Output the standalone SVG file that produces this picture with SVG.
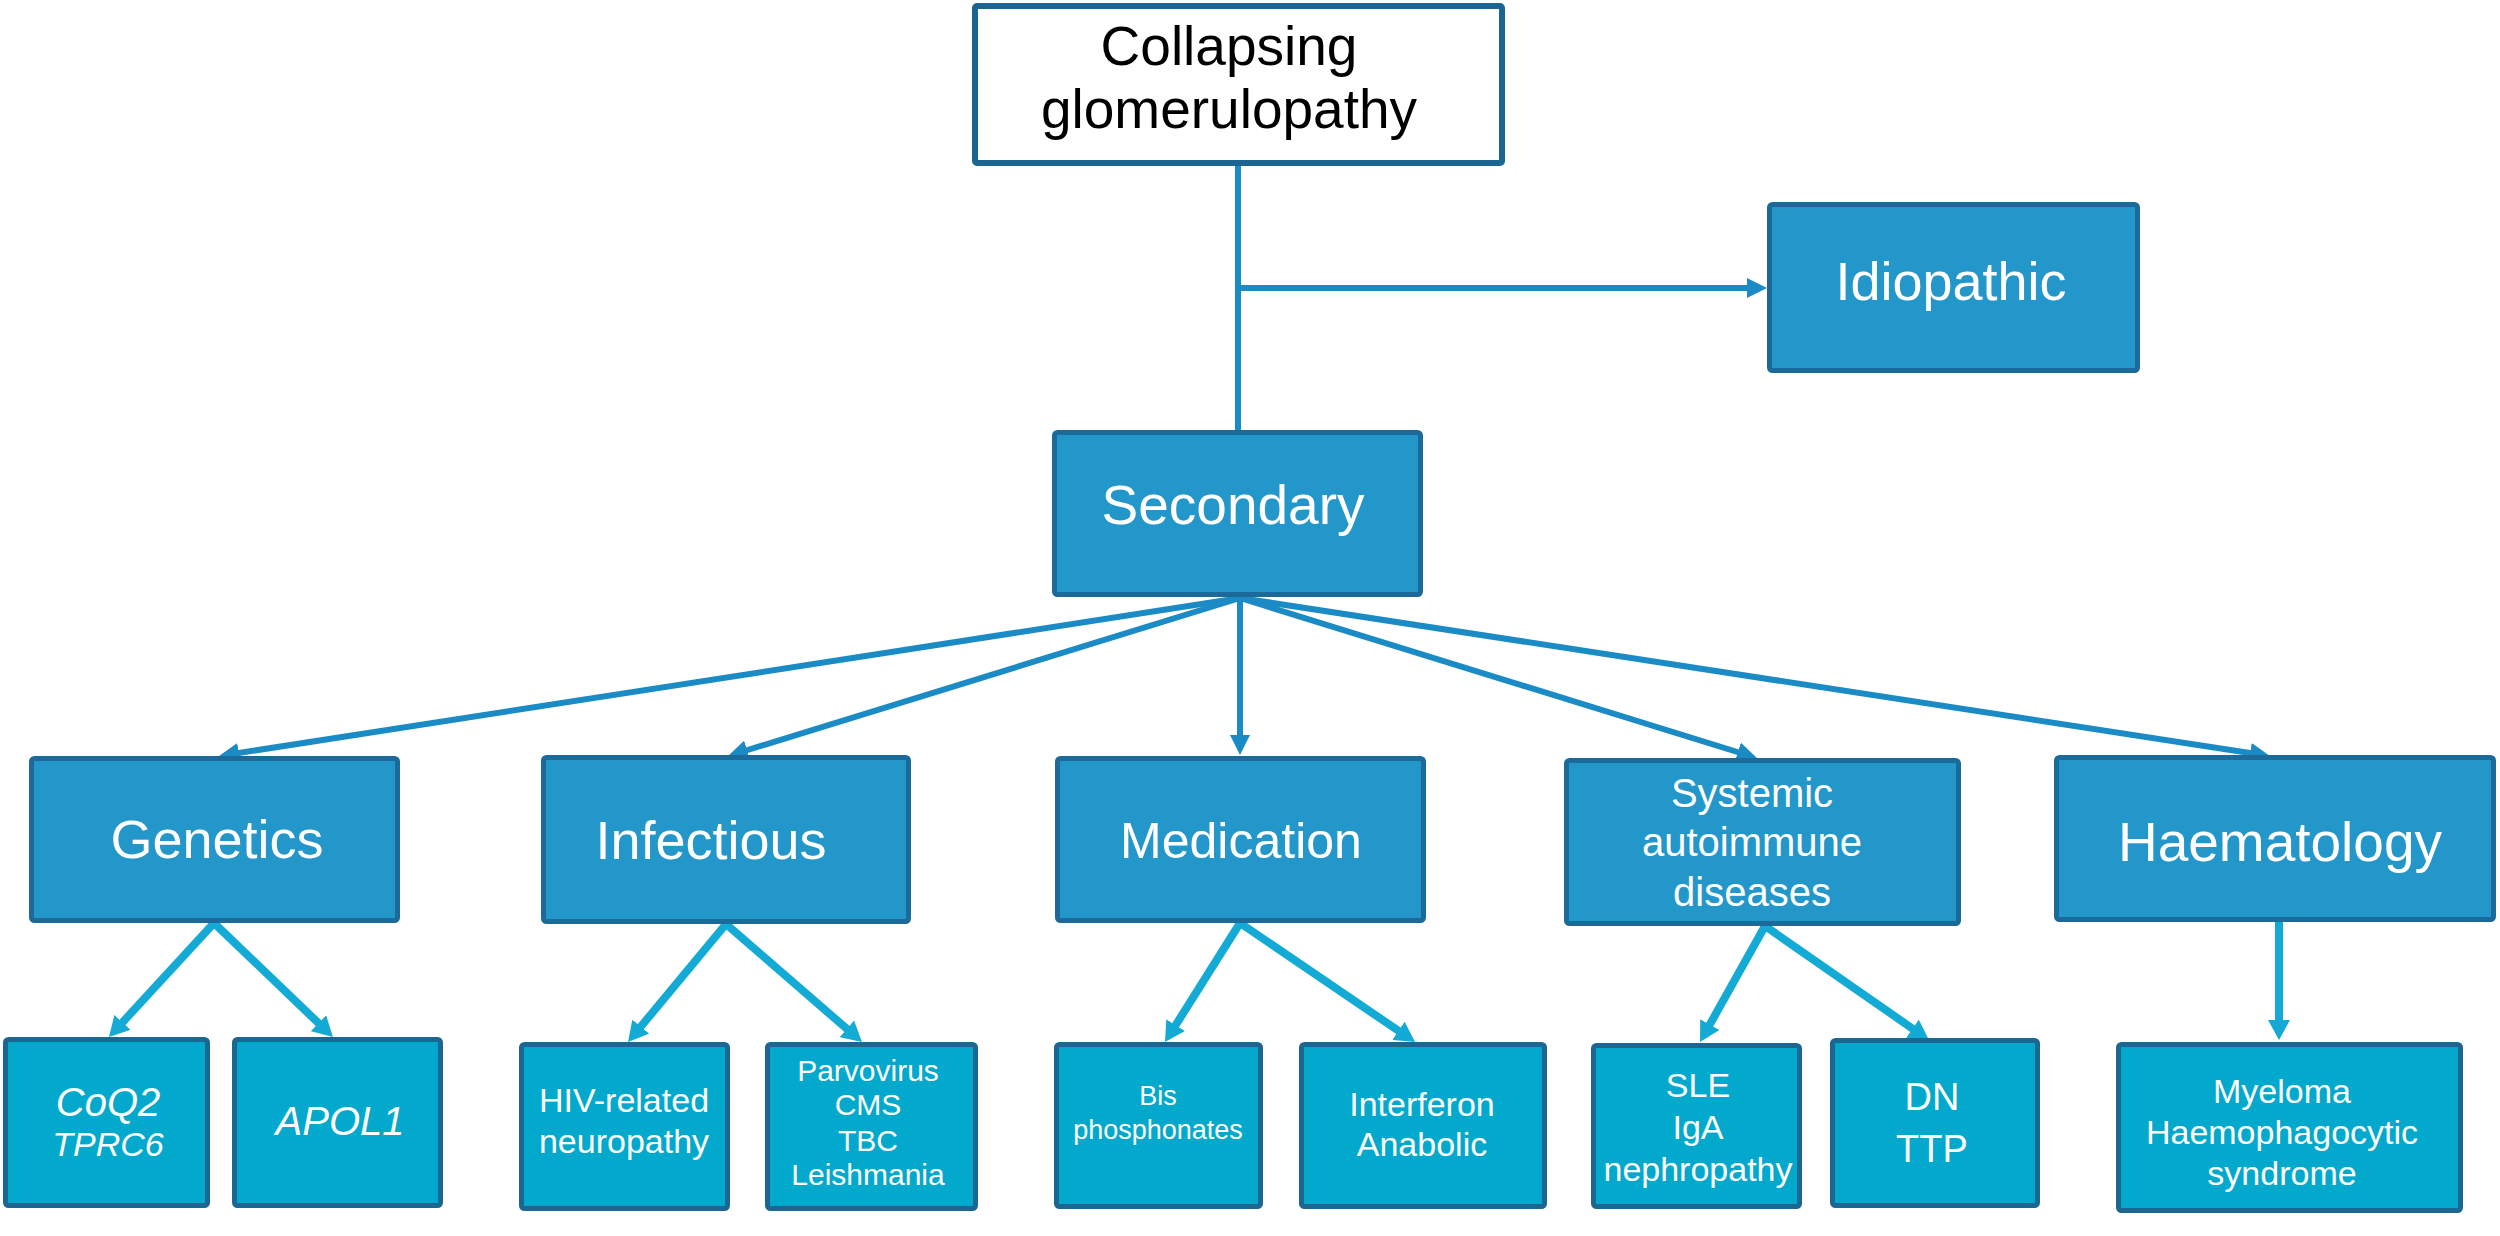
<svg xmlns="http://www.w3.org/2000/svg" width="2500" height="1236" viewBox="0 0 2500 1236">
<defs>
<style>
text{font-family:"Liberation Sans",Arial,Helvetica,sans-serif;text-anchor:middle;fill:#ffffff}
.top{fill:#ffffff;stroke:#1b6593;stroke-width:6}
.mid{fill:#2397ca;stroke:#1b6a99;stroke-width:5}
.leaf{fill:#02a9cd;stroke:#1b6791;stroke-width:5}
.main{stroke:#1a8bc5;stroke-width:6;fill:none}
.child{stroke:#13abd5;stroke-width:8;fill:none}
.dark{fill:#000000}
.it{font-style:italic}
</style>
<marker id="mh" markerUnits="userSpaceOnUse" markerWidth="20" markerHeight="20" refX="8" refY="10" orient="auto">
<path d="M0,0 L20,10 L0,20 z" fill="#1a8bc5"/>
</marker>
<marker id="ch" markerUnits="userSpaceOnUse" markerWidth="22" markerHeight="22" refX="8" refY="11" orient="auto">
<path d="M0,0 L20,11 L0,22 z" fill="#13abd5"/>
</marker>
</defs>
<rect width="2500" height="1236" fill="#ffffff"/>

<g id="connectors">
<line class="main" x1="1238" y1="166" x2="1238" y2="432"/>
<line class="main" x1="1238" y1="288" x2="1755" y2="288" marker-end="url(#mh)"/>
<line class="main" x1="1240" y1="598" x2="230.9" y2="754.2" marker-end="url(#mh)"/>
<line class="main" x1="1240" y1="598" x2="739.5" y2="752.5" marker-end="url(#mh)"/>
<line class="main" x1="1240" y1="598" x2="1240" y2="743" marker-end="url(#mh)"/>
<line class="main" x1="1240" y1="598" x2="1745.5" y2="754.5" marker-end="url(#mh)"/>
<line class="main" x1="1240" y1="598" x2="2258.1" y2="754.2" marker-end="url(#mh)"/>
<line class="child" x1="214" y1="923" x2="117.1" y2="1028.2" marker-end="url(#ch)"/>
<line class="child" x1="214" y1="923" x2="324.3" y2="1028.7" marker-end="url(#ch)"/>
<line class="child" x1="726" y1="924" x2="635.7" y2="1032.8" marker-end="url(#ch)"/>
<line class="child" x1="726" y1="924" x2="852.9" y2="1034.1" marker-end="url(#ch)"/>
<line class="child" x1="1240" y1="923" x2="1171.4" y2="1031.9" marker-end="url(#ch)"/>
<line class="child" x1="1240" y1="923" x2="1405.1" y2="1035.3" marker-end="url(#ch)"/>
<line class="child" x1="1765" y1="926" x2="1705.9" y2="1031.5" marker-end="url(#ch)"/>
<line class="child" x1="1765" y1="926" x2="1919.1" y2="1033.2" marker-end="url(#ch)"/>
<line class="child" x1="2279" y1="922" x2="2279" y2="1028" marker-end="url(#ch)"/>
</g>

<g id="collapsing">
<rect class="top" x="975" y="6" width="527" height="157" rx="2"/>
<text class="dark" x="1229" y="65" font-size="55">Collapsing</text>
<text class="dark" x="1229" y="128" font-size="55">glomerulopathy</text>
</g>

<g id="idiopathic">
<rect class="mid" x="1769.5" y="204.5" width="368" height="166" rx="3"/>
<text x="1951" y="300" font-size="54">Idiopathic</text>
</g>

<g id="secondary">
<rect class="mid" x="1054.5" y="432.5" width="366" height="162" rx="3"/>
<text x="1233" y="524" font-size="55">Secondary</text>
</g>

<g id="genetics">
<rect class="mid" x="31.5" y="758.5" width="366" height="162" rx="3"/>
<text x="217" y="858" font-size="54">Genetics</text>
</g>

<g id="infectious">
<rect class="mid" x="543.5" y="757.5" width="365" height="164" rx="3"/>
<text x="711" y="859" font-size="54">Infectious</text>
</g>

<g id="medication">
<rect class="mid" x="1057.5" y="758.5" width="366" height="162" rx="3"/>
<text x="1241" y="858" font-size="50">Medication</text>
</g>

<g id="systemic">
<rect class="mid" x="1566.5" y="760.5" width="392" height="163" rx="3"/>
<text x="1752" y="807" font-size="40">Systemic</text>
<text x="1752" y="856" font-size="40">autoimmune</text>
<text x="1752" y="906" font-size="40">diseases</text>
</g>

<g id="haematology">
<rect class="mid" x="2056.5" y="757.5" width="437" height="162" rx="3"/>
<text x="2280" y="861" font-size="55">Haematology</text>
</g>

<g id="coq2">
<rect class="leaf" x="5.5" y="1039.5" width="202" height="166" rx="3"/>
<text class="it" x="108" y="1116" font-size="40">CoQ2</text>
<text class="it" x="108" y="1156" font-size="34">TPRC6</text>
</g>

<g id="apol1">
<rect class="leaf" x="234.5" y="1039.5" width="206" height="166" rx="3"/>
<text class="it" x="340" y="1135" font-size="40">APOL1</text>
</g>

<g id="hiv">
<rect class="leaf" x="521.5" y="1044.5" width="206" height="164" rx="3"/>
<text x="624" y="1112" font-size="34">HIV-related</text>
<text x="624" y="1153" font-size="34">neuropathy</text>
</g>

<g id="parvovirus">
<rect class="leaf" x="767.5" y="1044.5" width="208" height="164" rx="3"/>
<text x="868" y="1081" font-size="30">Parvovirus</text>
<text x="868" y="1115" font-size="30">CMS</text>
<text x="868" y="1151" font-size="30">TBC</text>
<text x="868" y="1185" font-size="30">Leishmania</text>
</g>

<g id="bis">
<rect class="leaf" x="1056.5" y="1044.5" width="204" height="162" rx="3"/>
<text x="1158" y="1105" font-size="27">Bis</text>
<text x="1158" y="1139" font-size="27">phosphonates</text>
</g>

<g id="interferon">
<rect class="leaf" x="1301.5" y="1044.5" width="243" height="162" rx="3"/>
<text x="1422" y="1116" font-size="34">Interferon</text>
<text x="1422" y="1156" font-size="34">Anabolic</text>
</g>

<g id="sle">
<rect class="leaf" x="1593.5" y="1045.5" width="206" height="161" rx="3"/>
<text x="1698" y="1097" font-size="34">SLE</text>
<text x="1698" y="1139" font-size="34">IgA</text>
<text x="1698" y="1181" font-size="34">nephropathy</text>
</g>

<g id="dn">
<rect class="leaf" x="1832.5" y="1040.5" width="205" height="165" rx="3"/>
<text x="1932" y="1110" font-size="38">DN</text>
<text x="1932" y="1162" font-size="38">TTP</text>
</g>

<g id="myeloma">
<rect class="leaf" x="2118.5" y="1044.5" width="342" height="166" rx="3"/>
<text x="2282" y="1103" font-size="34">Myeloma</text>
<text x="2282" y="1144" font-size="34">Haemophagocytic</text>
<text x="2282" y="1185" font-size="34">syndrome</text>
</g>
</svg>
